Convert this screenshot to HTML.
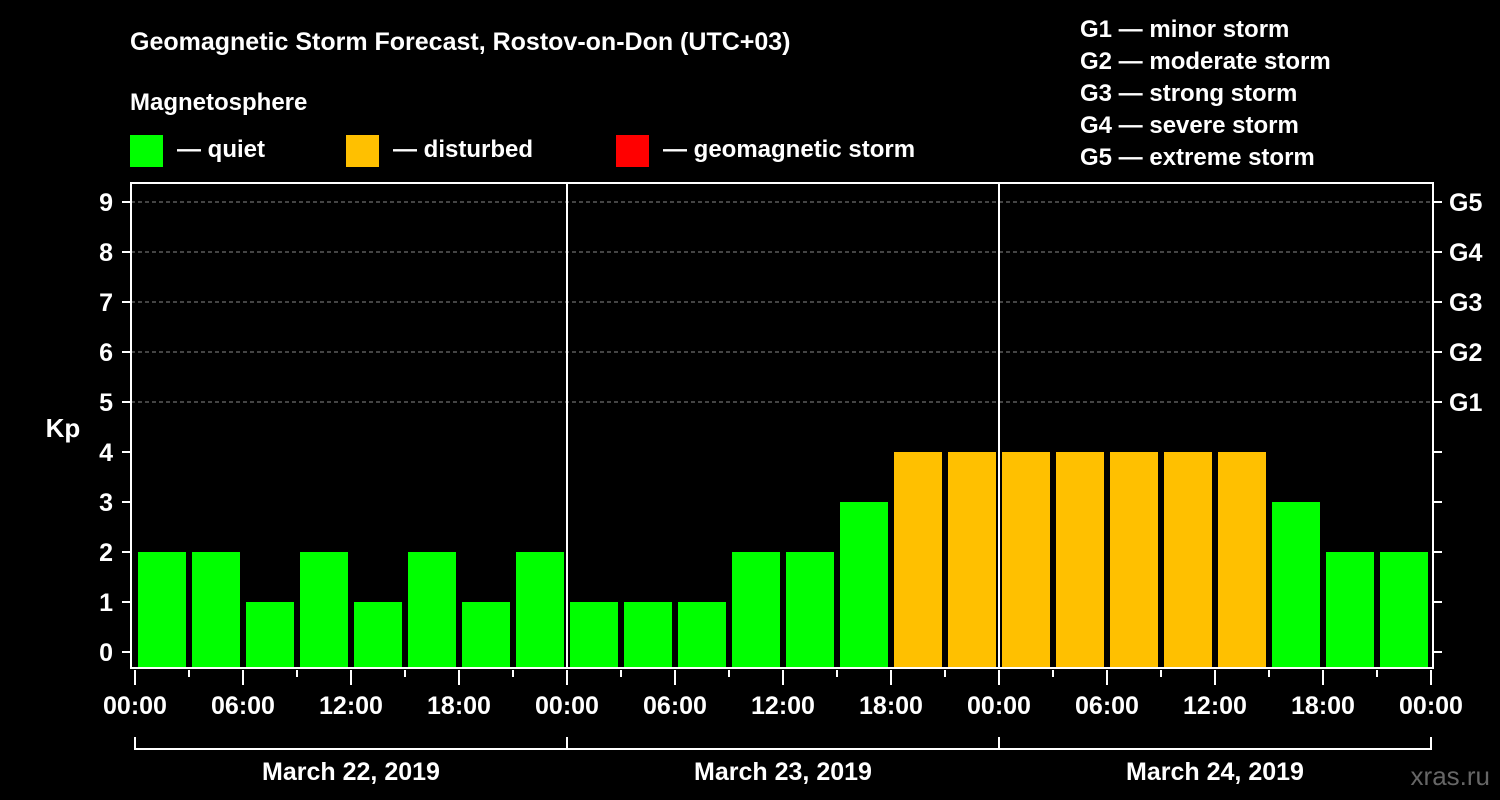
<!DOCTYPE html>
<html><head><meta charset="utf-8"><style>
html,body{margin:0;padding:0;background:#000;}
svg{display:block;font-family:"Liberation Sans",Arial,sans-serif;font-weight:bold;}
</style></head><body>
<svg id="c" width="1500" height="800" viewBox="0 0 1500 800">
<rect x="0" y="0" width="1500" height="800" fill="#000"/>
<text x="130" y="50" font-size="25" fill="#fff">Geomagnetic Storm Forecast, Rostov-on-Don (UTC+03)</text>
<text x="130" y="110" font-size="24" fill="#fff">Magnetosphere</text>
<g><rect x="130" y="135" width="33" height="32" fill="#00ff00"/><text x="177" y="157" font-size="24" fill="#fff">— quiet</text></g>
<g><rect x="346" y="135" width="33" height="32" fill="#ffc000"/><text x="393" y="157" font-size="24" fill="#fff">— disturbed</text></g>
<g><rect x="616" y="135" width="33" height="32" fill="#ff0000"/><text x="663" y="157" font-size="24" fill="#fff">— geomagnetic storm</text></g>
<g font-size="24" fill="#fff">
<text x="1080" y="37">G1 — minor storm</text>
<text x="1080" y="69">G2 — moderate storm</text>
<text x="1080" y="101">G3 — strong storm</text>
<text x="1080" y="133">G4 — severe storm</text>
<text x="1080" y="165">G5 — extreme storm</text>
</g>
<text x="63" y="437" font-size="26" fill="#fff" text-anchor="middle">Kp</text>
<text x="1490" y="785" font-size="26" fill="#666" text-anchor="end" font-weight="normal">xras.ru</text>
<g id="bars"></g>
<g id="axes"></g>
</svg>
<script>
const kpValues=[2,2,1,2,1,2,1,2, 1,1,1,2,2,3,4,4, 4,4,4,4,4,3,2,2];
const dayLabels=["March 22, 2019","March 23, 2019","March 24, 2019"];
const hourLabels=["00:00","06:00","12:00","18:00"];
const gLabels=["G1","G2","G3","G4","G5"];
const NS="http://www.w3.org/2000/svg";
const X0=135,PXH=18,Y0=652,PXK=50,BOT=668,TOP=183,LEFT=131,RIGHT=1433;
const xs=h=>X0+h*PXH, ys=k=>Y0-k*PXK;
function mk(t,a,p){const e=document.createElementNS(NS,t);for(const k in a)e.setAttribute(k,a[k]);(p||document.getElementById('axes')).appendChild(e);return e;}
const bars=document.getElementById('bars');
// grid
for(let k=5;k<=9;k++){const l=mk('line',{x1:LEFT,x2:RIGHT,y1:ys(k),y2:ys(k),stroke:'#888','stroke-dasharray':'4,3','stroke-width':1});

}
kpValues.forEach((v,i)=>{
 const c=v>=5?'#ff0000':(v>=4?'#ffc000':'#00ff00');
 const r=mk('rect',{x:xs(i*3)+3,y:ys(v),width:PXH*3-6,height:BOT-ys(v),fill:c},bars);
 
 
});
// frame
mk('rect',{x:LEFT,y:TOP,width:RIGHT-LEFT,height:BOT-TOP,fill:'none',stroke:'#fff','stroke-width':2});
for(let d=1;d<3;d++){const l=mk('line',{x1:xs(d*24),x2:xs(d*24),y1:TOP,y2:BOT,stroke:'#fff','stroke-width':2});

}
for(let k=0;k<=9;k++){
 mk('line',{x1:LEFT-9,x2:LEFT,y1:ys(k),y2:ys(k),stroke:'#fff','stroke-width':2});
 mk('line',{x1:RIGHT,x2:RIGHT+9,y1:ys(k),y2:ys(k),stroke:'#fff','stroke-width':2});
 const t=mk('text',{x:113,y:ys(k)+9,'font-size':25,fill:'#fff','text-anchor':'end'});t.textContent=k;
 
 
}
gLabels.forEach((g,i)=>{const t=mk('text',{x:1449,y:ys(i+5)+9,'font-size':25,fill:'#fff'});t.textContent=g;
 
 });
for(let h=0;h<=72;h+=3){
 const major=h%6===0;
 mk('line',{x1:xs(h),x2:xs(h),y1:BOT+2,y2:major?BOT+17:BOT+9,stroke:'#fff','stroke-width':2});
 if(major){const t=mk('text',{x:xs(h),y:714,'font-size':25,fill:'#fff','text-anchor':'middle'});t.textContent=hourLabels[(h/6)%4];
 
 }
}
mk('polyline',{points:`${xs(0)},737 ${xs(0)},749 ${xs(72)},749 ${xs(72)},737`,fill:'none',stroke:'#fff','stroke-width':2});
for(let d=1;d<3;d++)mk('line',{x1:xs(d*24),x2:xs(d*24),y1:737,y2:749,stroke:'#fff','stroke-width':2});
dayLabels.forEach((s,d)=>{const t=mk('text',{x:xs(d*24+12),y:780,'font-size':25,fill:'#fff','text-anchor':'middle'});t.textContent=s;
 
 });
</script>
</body></html>
